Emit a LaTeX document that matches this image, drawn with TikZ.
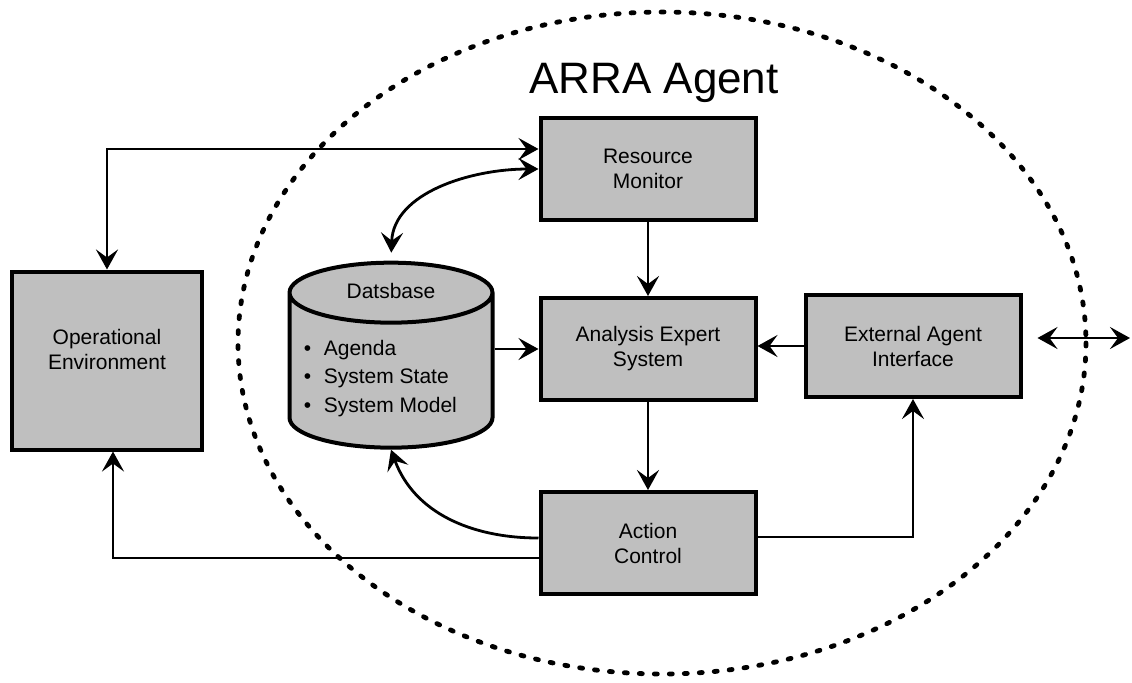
\documentclass[tikz,border=0pt]{standalone}
\usepackage{fontspec}
\setmainfont{Liberation Sans}
\usetikzlibrary{shapes, positioning, arrows.meta}

\begin{document}
\begin{tikzpicture}[->,
>={Stealth[length=10pt, width=11pt, inset=4pt]},
x=0.5pt, y=-0.5pt,
node distance=90pt,
line width=1.4pt,
block/.style={draw, line width=2pt, fill=gray!50, rectangle, align=center, minimum width=107.5pt, minimum height=51pt, font=\fontsize{10.5}{12.5}\selectfont},
store/.style={draw, line width=2pt, fill=gray!50, cylinder, shape border rotate=90, aspect=4.5, minimum width=101.5pt, minimum height=92.5pt},
agent/.style={-, line width=2.4pt, line cap=round, dash pattern=on 1.5pt off 6pt}]

\useasboundingbox (0,0) rectangle (1132,682);

% agent border
\draw[agent] (662,343) ellipse [x radius=424, y radius=331];
\node[font=\fontsize{22}{26}\selectfont, anchor=base]		(title) at (654,93)		{ARRA Agent};

\node[block]							(AES) at (648,349)		{Analysis Expert\\System};
\node[block]							(RM)[above of=AES]		{Resource\\Monitor};
\node[block]							(AC)[below of=AES, yshift=-7pt]		{Action\\Control};
\node[block]							(EAI)[right of=AES, xshift=42.5pt, yshift=1.5pt]		{External Agent\\Interface};
\node[store]							(DB)[left of=AES, xshift=-38.5pt, yshift=-13.75pt]		{};
\node[block, minimum width=95pt, minimum height=89pt]	(OE)[left of=DB, xshift=-52pt, yshift=8pt]		{Operational\\Environment\\[-1.5pt]};

\node[font=\fontsize{10.5}{12.5}\selectfont]		(DBname) at ([yshift=-15pt]DB.north)		{Datsbase};
\node[anchor=west, align=left, inner sep=0pt, font=\fontsize{10.5}{14.25}\selectfont]	(DBlist) at ([xshift=7.5pt, yshift=-1pt]DB.west)
	{\textbullet\hspace{0.6em}Agenda\\ \textbullet\hspace{0.6em}System State\\ \textbullet\hspace{0.6em}System Model};

\path[->]
 (RM) edge (AES)
 (AES) edge (AC)
 (DB.east |- AES.west) edge (AES.west)
 (EAI.west) edge (EAI.west -| AES.east);

\draw[<->] (OE.north) |- ([yshift=10pt]RM.west);
\draw[<->, shorten <=4pt] (DB.north) to[out=88, in=180] (RM.west);
\draw ([yshift=3pt]AC.east) -| (EAI.south);
\draw ([yshift=2.5pt]AC.west) to[out=180, in=-70] (DB.south);
\draw ([yshift=-7.5pt]AC.west) -| ([xshift=3pt]OE.south);
\coordinate (far) at (1130,338);
\draw[<->] ([shift={(7.5pt,4pt)}]EAI.east) -- (far);

\end{tikzpicture}
\end{document}
